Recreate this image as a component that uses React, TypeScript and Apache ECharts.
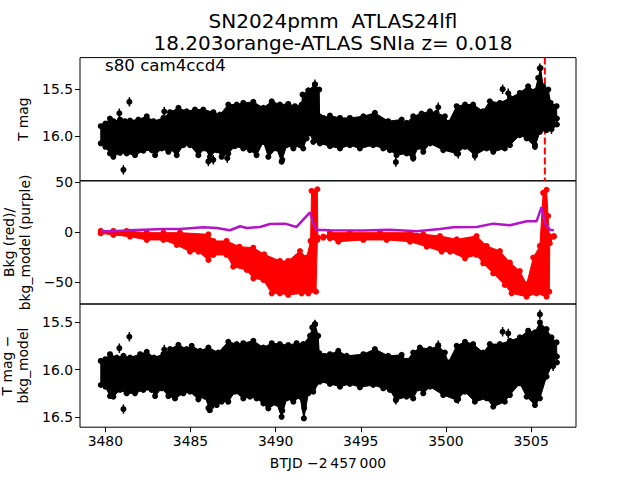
import React, { useEffect, useRef } from "react";
import * as echarts from "echarts";

const xTicks = [3480, 3485, 3490, 3495, 3500, 3505];
const tMagTicks = [15.5, 16.0];
const bkgTicks = [50, 0, -50];
const diffTicks = [15.5, 16.0, 16.5];
const eventDay = 3505.81;

const magUpper: number[][] = [[3479.73,15.865],[3480,15.837],[3480.27,15.784],[3480.47,15.812],[3480.86,15.794],[3481.15,15.812],[3481.45,15.805],[3481.94,15.794],[3482.43,15.759],[3482.82,15.812],[3483.41,15.777],[3483.8,15.716],[3484.29,15.67],[3484.77,15.706],[3485.26,15.688],[3485.75,15.688],[3486.34,15.716],[3486.73,15.741],[3487.22,15.635],[3487.71,15.635],[3488.1,15.617],[3488.69,15.606],[3489.28,15.67],[3489.77,15.599],[3490.25,15.635],[3490.74,15.628],[3491.13,15.652],[3491.53,15.635],[3491.58,15.528],[3491.92,15.482],[3492.31,15.422],[3492.56,15.475],[3492.58,15.759],[3492.8,15.777],[3493.19,15.752],[3493.78,15.777],[3494.36,15.777],[3495.15,15.759],[3495.83,15.723],[3496.61,15.812],[3497.4,15.794],[3497.69,15.83],[3498.08,15.759],[3498.57,15.73],[3499.06,15.706],[3499.45,15.723],[3499.94,15.759],[3500.14,15.83],[3500.63,15.652],[3501.12,15.635],[3501.6,15.635],[3502.19,15.706],[3502.58,15.599],[3503.17,15.617],[3503.76,15.564],[3504.34,15.511],[3504.83,15.44],[3505.23,15.493],[3505.42,15.351],[3505.56,15.245],[3505.71,15.44],[3506.01,15.475],[3506.15,15.617],[3506.5,15.652],[3506.52,15.847]];
const magLower: number[][] = [[3479.73,16.113],[3480,16.149],[3480.27,16.22],[3480.47,16.255],[3480.86,16.213],[3481.25,16.22],[3481.74,16.238],[3482.23,16.191],[3482.72,16.184],[3482.92,16.238],[3483.31,16.167],[3483.7,16.202],[3484.09,16.184],[3484.19,16.238],[3484.58,16.131],[3484.97,16.131],[3485.46,16.238],[3485.85,16.167],[3486.14,16.255],[3486.54,16.184],[3486.83,16.255],[3487.22,16.22],[3487.61,16.142],[3488.1,16.167],[3488.49,16.184],[3488.88,16.238],[3489.28,16.096],[3489.57,16.255],[3490.06,16.167],[3490.35,16.308],[3490.65,16.131],[3491.04,16.167],[3491.43,16.131],[3491.62,16.167],[3491.82,16.06],[3492.02,16.007],[3492.21,16.096],[3492.6,16.113],[3493.19,16.142],[3493.78,16.167],[3494.36,16.131],[3494.95,16.167],[3495.73,16.131],[3496.32,16.167],[3496.71,16.184],[3497.1,16.238],[3497.69,16.22],[3498.08,16.273],[3498.38,16.149],[3498.67,16.202],[3499.06,16.113],[3499.84,16.184],[3500.63,16.22],[3501.12,16.149],[3501.7,16.238],[3502.39,16.167],[3502.78,16.202],[3503.46,16.167],[3503.76,16.131],[3504.34,16.025],[3504.74,16.06],[3505.23,16.149],[3505.52,15.989],[3505.91,15.972],[3506.3,15.918],[3506.52,15.847]];
const magOutliers: number[][] = [[3481.41,15.638],[3480.82,15.759],[3481.06,16.362],[3483.46,15.741],[3486.05,16.273],[3486.34,16.255],[3487.16,16.238],[3490.39,16.255],[3492.31,15.45],[3503.33,15.503],[3503.66,15.546],[3499.55,15.695],[3497.06,16.28],[3505.52,15.28],[3505.23,16.096],[3506.2,15.929],[3498.08,16.227],[3500.72,16.191],[3501.7,16.213]];

const bkgUpper: number[][] = [[3479.73,4.1],[3480.47,4.1],[3481.25,4.1],[3482.43,2.4],[3483.41,2.4],[3484.38,2.4],[3486.05,0.8],[3486.34,-5.8],[3487.12,-5.8],[3487.87,-11.5],[3488.69,-12.5],[3489.33,-19.1],[3490.25,-25.7],[3490.74,-25.7],[3491.43,-15.8],[3491.82,-22.4],[3492.05,-5.8],[3492.11,43.9],[3492.45,45.6],[3492.48,-2.5],[3492.8,-2.5],[3493.19,2.4],[3494.36,2.4],[3496.13,2.4],[3497.89,2.4],[3498.67,0.8],[3499.65,-0.9],[3500.63,-4.2],[3501.8,-0.9],[3502.39,-10.8],[3503.17,-15.8],[3503.76,-27.4],[3504.34,-35.7],[3504.74,-49],[3505.13,-22.4],[3505.52,-10.8],[3505.71,42],[3505.91,45],[3506,19],[3506.07,-1],[3506.34,-1]];
const bkgLower: number[][] = [[3479.73,-4.2],[3480.47,-5.8],[3481.45,-7.5],[3482.43,-10.8],[3483.41,-10.8],[3484.19,-15.8],[3484.97,-22.4],[3485.46,-22.4],[3486.05,-30.7],[3486.34,-25.7],[3487.12,-25.7],[3487.51,-37.4],[3488.3,-40.7],[3488.69,-49],[3489.28,-50.6],[3489.77,-63.9],[3490.25,-63.9],[3490.74,-65.5],[3491.53,-63.9],[3491.92,-63.9],[3492.37,-62.2],[3492.45,-10.8],[3492.8,-7.5],[3493.19,-9.2],[3493.68,-12.5],[3495.15,-10.8],[3496.52,-10.8],[3497.89,-12.5],[3498.87,-17.5],[3499.75,-22.4],[3500.24,-22.4],[3501.12,-29.1],[3501.8,-25.7],[3502.19,-34],[3502.78,-44],[3503.46,-55.6],[3503.86,-63.9],[3504.74,-67.2],[3505.32,-63.9],[3505.91,-67.2],[3506.07,-62.2],[3506.1,-14.1],[3506.34,-7.5]];
const modelLine: number[][] = [[3479.73,0.8],[3480.47,0.8],[3481.45,1.8],[3483.41,3.1],[3484.38,3.1],[3485.75,4.8],[3486.54,4.1],[3487.32,1.8],[3487.91,5.8],[3488.3,4.1],[3489.08,5.1],[3489.67,8.1],[3490.55,8.4],[3491.23,5.1],[3491.62,12.4],[3492.02,19.7],[3492.21,9.1],[3492.41,2.4],[3493.19,1.8],[3495.15,1.5],[3496.71,2.4],[3498.28,0.8],[3499.65,3.1],[3500.43,4.8],[3501.8,5.1],[3502.78,8.4],[3503.76,6.8],[3504.74,10.7],[3505.32,10.7],[3505.62,25],[3505.81,9.1],[3506.1,2.4],[3506.34,1.8]];

const diffUpper: number[][] = [[3479.73,15.876],[3480,15.858],[3480.27,15.805],[3480.67,15.84],[3481.06,15.822],[3481.45,15.84],[3482.04,15.805],[3482.43,15.78],[3482.86,15.84],[3483.41,15.805],[3483.8,15.751],[3484.29,15.705],[3484.77,15.751],[3485.07,15.716],[3485.56,15.769],[3486.05,15.734],[3486.63,15.787],[3487.22,15.673],[3487.71,15.698],[3488.1,15.688],[3488.69,15.663],[3489.28,15.734],[3489.77,15.688],[3490.25,15.698],[3490.74,15.709],[3491.23,15.688],[3491.62,15.698],[3492.02,15.61],[3492.15,15.521],[3492.31,15.485],[3492.5,15.61],[3492.56,15.794],[3493.19,15.805],[3493.68,15.769],[3494.17,15.822],[3495.15,15.805],[3495.83,15.751],[3496.61,15.822],[3497.4,15.812],[3497.69,15.876],[3498.08,15.787],[3498.47,15.734],[3499.06,15.751],[3499.55,15.716],[3499.94,15.787],[3500.14,15.893],[3500.63,15.716],[3501.12,15.673],[3501.6,15.698],[3502.19,15.787],[3502.58,15.698],[3503.17,15.698],[3503.76,15.663],[3504.34,15.627],[3504.83,15.556],[3505.23,15.574],[3505.52,15.468],[3505.91,15.539],[3506.2,15.627],[3506.5,15.68],[3506.52,15.893]];
const diffLower: number[][] = [[3479.73,16.195],[3480,16.212],[3480.27,16.312],[3480.47,16.319],[3480.86,16.248],[3481.25,16.283],[3481.74,16.283],[3482.23,16.248],[3482.72,16.248],[3482.92,16.312],[3483.31,16.23],[3483.7,16.312],[3484.09,16.337],[3484.58,16.283],[3484.97,16.266],[3485.46,16.347],[3485.85,16.319],[3486.14,16.461],[3486.54,16.407],[3486.83,16.372],[3487.22,16.372],[3487.61,16.266],[3488.1,16.337],[3488.49,16.319],[3488.88,16.337],[3489.28,16.39],[3489.57,16.443],[3490.06,16.39],[3490.35,16.532],[3490.65,16.337],[3491.04,16.372],[3491.43,16.319],[3491.66,16.549],[3491.92,16.283],[3492.21,16.266],[3492.6,16.159],[3493.19,16.184],[3493.78,16.212],[3494.36,16.184],[3494.95,16.219],[3495.73,16.195],[3496.32,16.23],[3496.71,16.248],[3497.06,16.354],[3497.69,16.319],[3498.08,16.337],[3498.38,16.23],[3498.67,16.283],[3499.06,16.212],[3499.84,16.301],[3500.63,16.354],[3501.12,16.266],[3501.7,16.372],[3502.39,16.336],[3502.78,16.425],[3503.46,16.372],[3503.76,16.301],[3504.34,16.177],[3504.74,16.319],[3505.23,16.407],[3505.52,16.336],[3505.91,16.106],[3506.3,15.964],[3506.52,15.893]];
const diffOutliers: number[][] = [[3481.41,15.652],[3480.82,15.773],[3481.06,16.418],[3483.46,15.787],[3486.05,16.407],[3486.34,16.361],[3487.16,16.319],[3489.57,16.383],[3490.39,16.436],[3491.68,16.407],[3492.21,16.195],[3492.31,15.521],[3503.33,15.599],[3503.66,15.617],[3499.55,15.741],[3497.06,16.319],[3505.52,15.415],[3505.23,16.337],[3502.82,16.354],[3500.72,16.312],[3506.3,15.964]];

const FONT = "DejaVu Sans";
const DOT_R = 3;

function envelope(idx: number, upper: number[][], lower: number[][], color: string) {
  const pts = [...upper, ...[...lower].reverse()];
  return {
    type: "custom",
    xAxisIndex: idx,
    yAxisIndex: idx,
    z: 3,
    silent: true,
    data: pts,
    encode: { x: 0, y: 1 },
    renderItem: (params: any, api: any) => {
      if (params.dataIndex !== 0) return null;
      const up = upper.map((p) => { const c = api.coord(p); return [c[0], c[1] + DOT_R]; });
      const lo = lower.map((p) => { const c = api.coord(p); return [c[0], c[1] - DOT_R]; });
      const all = [...up, ...[...lo].reverse()];
      return {
        type: "group",
        children: [
          {
            type: "polygon",
            shape: { points: all },
            style: { fill: color, stroke: color, lineWidth: 1, lineJoin: "round" },
          },
          ...all.map((c) => ({
            type: "circle",
            shape: { cx: c[0], cy: c[1], r: DOT_R },
            style: { fill: color },
          })),
        ],
      };
    },
  };
}

function outliers(idx: number, data: number[][]) {
  return {
    type: "custom",
    xAxisIndex: idx,
    yAxisIndex: idx,
    z: 4,
    silent: true,
    data,
    encode: { x: 0, y: 1 },
    renderItem: (_: any, api: any) => {
      const x = api.value(0);
      const y = api.value(1);
      const c = api.coord([x, y]);
      const a = api.coord([x, y - 0.05]);
      const b = api.coord([x, y + 0.05]);
      return {
        type: "group",
        children: [
          { type: "line", shape: { x1: a[0], y1: a[1], x2: b[0], y2: b[1] }, style: { stroke: "#000", lineWidth: 1.5 } },
          { type: "circle", shape: { cx: c[0], cy: c[1], r: 3 }, style: { fill: "#000" } },
        ],
      };
    },
  };
}

function xAxis(idx: number, bottom: boolean) {
  return {
    type: "value",
    gridIndex: idx,
    min: 3478.51,
    max: 3507.64,
    splitLine: { show: false },
    axisLine: { show: false },
    axisTick: { show: bottom, length: 5, customValues: xTicks, lineStyle: { color: "#000", width: 1 } },
    axisLabel: {
      show: bottom,
      customValues: xTicks,
      color: "#000",
      fontFamily: FONT,
      fontSize: 13.9,
      margin: 7,
      formatter: (v: number) => String(v),
    },
    ...(bottom
      ? {
          name: "BTJD \u22122\u2009457\u2009000",
          nameLocation: "middle",
          nameGap: 29,
          nameTextStyle: { color: "#000", fontFamily: FONT, fontSize: 13.9 },
        }
      : {}),
  };
}

function yAxis(idx: number, min: number, max: number, ticks: number[], inverse: boolean, name: string, gap: number, dec: number) {
  return {
    type: "value",
    gridIndex: idx,
    min,
    max,
    inverse,
    splitLine: { show: false },
    axisLine: { show: false },
    axisTick: { show: true, length: 5, customValues: ticks, lineStyle: { color: "#000", width: 1 } },
    axisLabel: {
      customValues: ticks,
      color: "#000",
      fontFamily: FONT,
      fontSize: 13.9,
      margin: 7,
      formatter: (v: number) => v.toFixed(dec).replace("-", "\u2212"),
    },
    name,
    nameLocation: "middle",
    nameRotate: 90,
    nameGap: gap,
    nameTextStyle: { color: "#000", fontFamily: FONT, fontSize: 13.9, lineHeight: 16 },
  };
}

export default function App() {
  const ref = useRef<HTMLDivElement>(null);
  useEffect(() => {
    const chart = echarts.init(ref.current!, undefined, { renderer: "svg" });
    const gridBase = { left: 80, width: 496, height: 123.2, show: true, borderColor: "#000", borderWidth: 1, backgroundColor: "transparent", outerBoundsMode: "none", containLabel: false };
    chart.setOption({
      animation: false,
      backgroundColor: "#fff",
      title: {
        text: "SN2024pmm  ATLAS24lfl\n18.203orange-ATLAS SNIa z= 0.018",
        left: 328,
        top: 5,
        textAlign: "center",
        textStyle: { color: "#000", fontFamily: FONT, fontSize: 20, fontWeight: "normal", lineHeight: 22 },
      },
      graphic: [
        {
          type: "text",
          x: 105,
          y: 57,
          z: 20,
          style: { text: "s80 cam4ccd4", fill: "#000", font: `16.67px "${FONT}"` },
        },
      ],
      grid: [
        { ...gridBase, top: 57.6 },
        { ...gridBase, top: 180.8 },
        { ...gridBase, top: 304 },
      ],
      xAxis: [xAxis(0, false), xAxis(1, false), xAxis(2, true)],
      yAxis: [
        yAxis(0, 15.166, 16.479, tMagTicks, true, "T mag", 46, 1),
        yAxis(1, -71.5, 51, bkgTicks, false, "Bkg (red)/\nbkg_model (purple)", 45, 0),
        yAxis(2, 15.305, 16.61, diffTicks, true, "T mag \u2212\nbkg_model", 45, 1),
      ],
      series: [
        {
          type: "line",
          xAxisIndex: 0,
          yAxisIndex: 0,
          z: 2,
          symbol: "none",
          silent: true,
          data: [[eventDay, 15.166], [eventDay, 16.479]],
          lineStyle: { color: "#ff0000", width: 2, type: [7, 3] },
        },
        envelope(0, magUpper, magLower, "#000"),
        outliers(0, magOutliers),
        envelope(1, bkgUpper, bkgLower, "#ff0000"),
        {
          type: "line",
          xAxisIndex: 1,
          yAxisIndex: 1,
          z: 5,
          symbol: "none",
          silent: true,
          data: modelLine,
          lineStyle: { color: "#b414c8", width: 2.5 },
        },
        envelope(2, diffUpper, diffLower, "#000"),
        outliers(2, diffOutliers),
      ],
    });
    return () => chart.dispose();
  }, []);
  return <div ref={ref} style={{ position: "absolute", left: 0, top: 0, width: 640, height: 480 }} />;
}
